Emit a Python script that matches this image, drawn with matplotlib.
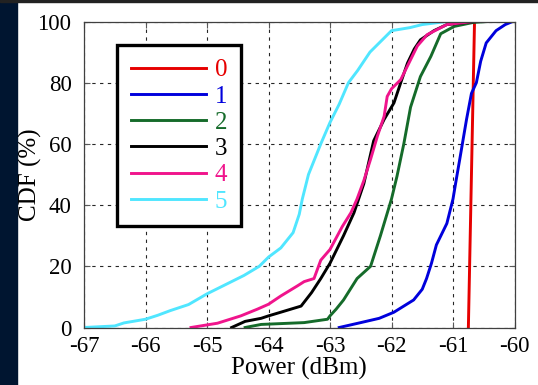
import matplotlib
matplotlib.use("Agg")
import matplotlib.pyplot as plt
from matplotlib.patches import Rectangle

plt.rcParams["font.family"] = ["Liberation Serif", "DejaVu Serif"]

labels = ["0", "1", "2", "3", "4", "5"]
colors = ["#e60000", "#0000dc", "#156b2a", "#000000", "#f0148c", "#50e6ff"]

# power (dBm) / CDF (%)
p0 = [-60.75, -60.73, -60.71, -60.69, -60.67, -60.65]
c0 = [0, 20, 40, 60, 80, 100]

p1 = [-62.85, -62.5, -62.2, -61.96, -61.8, -61.64, -61.5, -61.43, -61.35, -61.27,
      -61.1, -61.0, -60.95, -60.89, -60.78, -60.7, -60.62, -60.55, -60.46, -60.3, -60.15, -60.03]
c1 = [0, 1.6, 3, 5, 7, 9, 12.5, 16, 21, 27,
      34, 42, 48, 55, 68, 76.5, 80, 87, 93, 97, 99, 100]

p2 = [-64.38, -64.12, -63.42, -63.04, -63.0, -62.9, -62.78, -62.56, -62.34, -62.18,
      -62.0, -61.91, -61.8, -61.69, -61.53, -61.36, -61.2, -60.98, -60.67, -60.43]
c2 = [0, 1, 1.6, 2.7, 3.8, 6, 9, 16, 20, 30,
      42, 49.5, 60, 72, 82, 88.6, 96, 98.4, 99.7, 100]

p3 = [-64.6, -64.38, -64.12, -64.0, -63.8, -63.47, -63.3, -63.15, -63.0, -62.78,
      -62.61, -62.45, -62.29, -62.12, -61.96, -61.85, -61.74, -61.63, -61.53, -61.31,
      -61.1, -60.62]
c3 = [0, 2, 3, 3.8, 5, 7, 11.4, 16, 21, 30,
      37.5, 47, 61, 68, 73.4, 80, 86.4, 91, 94, 97,
      99, 100]

p4 = [-65.26, -64.83, -64.45, -64.18, -64.0, -63.8, -63.53, -63.42, -63.26, -63.15,
      -63.0, -62.8, -62.66, -62.56, -62.45, -62.34, -62.23, -62.12, -62.07, -62.0,
      -61.85, -61.69, -61.58, -61.42, -61.1, -60.67]
c4 = [0, 1.4, 3.8, 6, 7.6, 10.3, 13.6, 15, 16, 22,
      25.5, 33, 37.5, 42, 48, 55, 62.5, 69, 75.5, 78,
      81, 87.5, 92, 95.7, 99, 100]

p5 = [-67.0, -66.5, -66.35, -66.0, -65.8, -65.6, -65.3, -65.0, -64.7, -64.4,
      -64.15, -64.0, -63.8, -63.6, -63.5, -63.45, -63.35, -63.25, -63.15, -63.0,
      -62.85, -62.7, -62.55, -62.35, -62.15, -62.0, -61.7, -61.5, -61.1]
c5 = [0, 0.5, 1.5, 2.7, 4, 5.5, 7.5, 11, 14, 17,
      20, 23, 26, 31, 37, 42, 50, 55, 60, 67,
      73, 80, 84, 90, 94, 97, 98, 99, 100]

powers = [p0, p1, p2, p3, p4, p5]
cdfs = [c0, c1, c2, c3, c4, c5]

xticks = [-67, -66, -65, -64, -63, -62, -61, -60]
yticks = [0, 20, 40, 60, 80, 100]

fig = plt.figure(figsize=(5.38, 3.85), dpi=100)
fig.patches.append(Rectangle((0, 0), 17 / 538, 1, transform=fig.transFigure,
                             color="#001530", zorder=-1))
fig.patches.append(Rectangle((0, 1 - 2 / 385), 1, 2 / 385, transform=fig.transFigure,
                             color="#222222", zorder=-1))

ax = fig.add_axes([84 / 538, 1 - 327.5 / 385, 430.5 / 538, 306 / 385])

for p, c, lab, col in zip(powers, cdfs, labels, colors):
    ax.plot(p, c, color=col, lw=2.1, label=lab)

ax.set_xlim(-67, -60)
ax.set_ylim(0, 100)
ax.set_xticks(xticks)
ax.set_yticks(yticks)
ax.set_xticklabels([str(v) for v in xticks])
ax.grid(True, color="0.15", lw=0.8, linestyle=(0, (3, 4)))
ax.tick_params(direction="in", length=4.5, width=0.8, color="0.35",
               top=True, right=True, labelsize=16.5)
ax.tick_params(axis="y", pad=9)
ax.tick_params(axis="x", pad=6)
for s in ax.spines.values():
    s.set_color("0.25")
    s.set_linewidth(0.9)

ax.set_xlabel("Power (dBm)", fontsize=18, labelpad=0)
ax.set_ylabel("CDF (%)", fontsize=18)
ax.yaxis.set_label_coords(-0.098, 0.5)

leg = ax.legend(loc="upper left", bbox_to_anchor=(0.0767, 0.923), borderaxespad=0,
                fontsize=18, labelcolor="linecolor", handlelength=3.0,
                handletextpad=0.35, labelspacing=0.15, borderpad=0.55,
                fancybox=False, framealpha=1, edgecolor="black")
leg.get_frame().set_linewidth(2.4)

fig.savefig("out.png", dpi=100)
